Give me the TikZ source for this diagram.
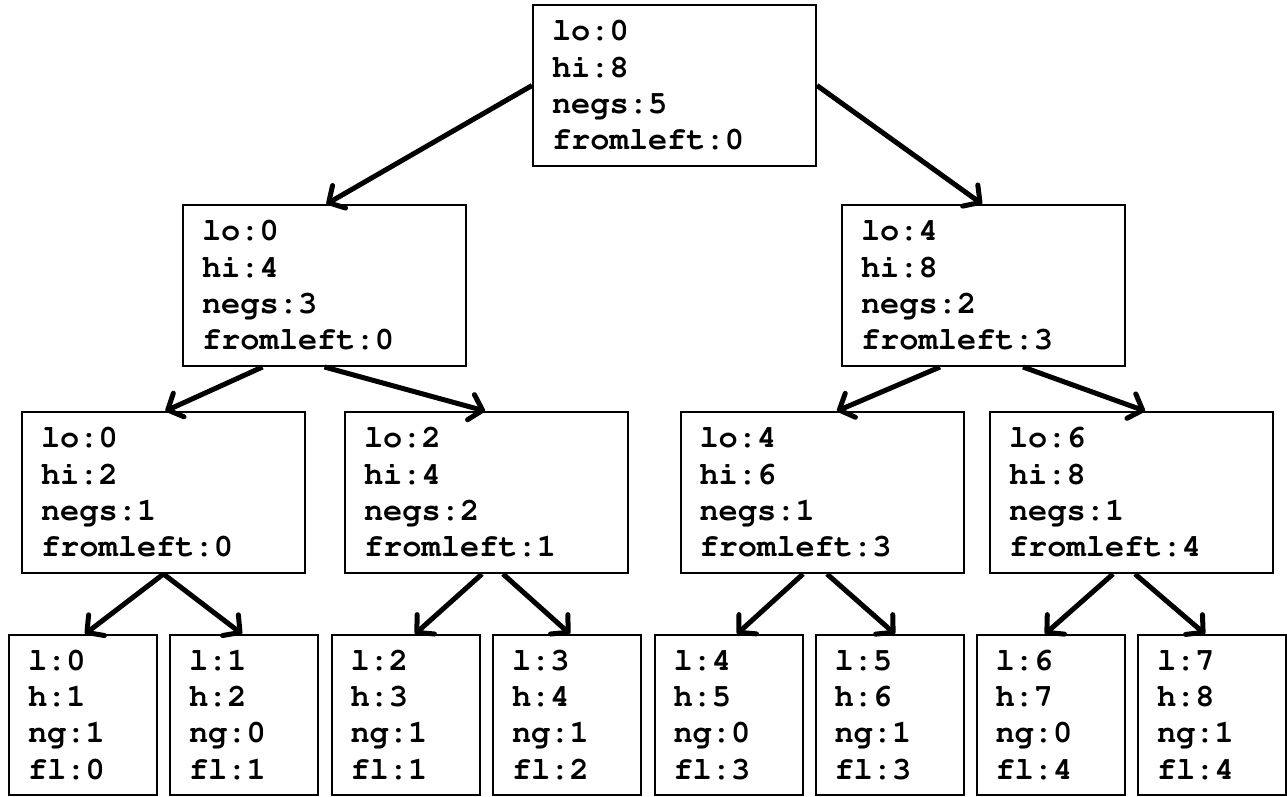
\documentclass[tikz,border=0pt]{standalone}
\usepackage[T1]{fontenc}
\usetikzlibrary{arrows.meta}
\begin{document}
\begin{tikzpicture}[x=1pt,y=-1pt,
  box/.style={draw,line width=2pt,rectangle,minimum width=283pt,minimum height=161pt,
    text width=245pt,inner xsep=19pt,inner ysep=0pt,align=left,
    font=\fontfamily{pcr}\bfseries\fontsize{32}{36.3}\selectfont},
  leaf/.style={box,minimum width=148pt,minimum height=160pt,text width=110pt},
  conn/.style={line width=5pt,-{Straight Barb[length=12pt,width=26pt,round]}}]
\useasboundingbox (0,0) rectangle (1287,797);
\node[box] (root) at (674.5,85.5) {lo:0\\hi:8\\negs:5\\fromleft:0};
\node[box] (a) at (324.5,285.5) {lo:0\\hi:4\\negs:3\\fromleft:0};
\node[box] (b) at (983.5,285.5) {lo:4\\hi:8\\negs:2\\fromleft:3};
\node[box] (aa) at (163.5,492.5) {lo:0\\hi:2\\negs:1\\fromleft:0};
\node[box] (ab) at (486.5,492.5) {lo:2\\hi:4\\negs:2\\fromleft:1};
\node[box] (ba) at (822,492.5) {lo:4\\hi:6\\negs:1\\fromleft:3};
\node[box] (bb) at (1131.5,492.5) {lo:6\\hi:8\\negs:1\\fromleft:4};
\node[leaf] (l0) at (83,715) {l:0\\h:1\\ng:1\\fl:0};
\node[leaf] (l1) at (244,715) {l:1\\h:2\\ng:0\\fl:1};
\node[leaf] (l2) at (405.5,715) {l:2\\h:3\\ng:1\\fl:1};
\node[leaf] (l3) at (567,715) {l:3\\h:4\\ng:1\\fl:2};
\node[leaf] (l4) at (728.5,715) {l:4\\h:5\\ng:0\\fl:3};
\node[leaf] (l5) at (889.5,715) {l:5\\h:6\\ng:1\\fl:3};
\node[leaf] (l6) at (1050.5,715) {l:6\\h:7\\ng:0\\fl:4};
\node[leaf] (l7) at (1212,715) {l:7\\h:8\\ng:1\\fl:4};
\draw[conn] (root.west) -- ([xshift=2pt]a.north);
\draw[conn] (root.east) -- ([xshift=-1.5pt]b.north);
\draw[conn] ([xshift=-62pt]a.south) -- ([xshift=2pt]aa.north);
\draw[conn] (a.south) -- ([xshift=-1.5pt]ab.north);
\draw[conn] ([xshift=-43.5pt]b.south) -- ([xshift=15pt]ba.north);
\draw[conn] ([xshift=39.5pt]b.south) -- ([xshift=13.5pt]bb.north);
\draw[conn] (aa.south) -- ([xshift=2pt]l0.north);
\draw[conn] (aa.south) -- ([xshift=-2pt]l1.north);
\draw[conn] ([xshift=-4.5pt]ab.south) -- ([xshift=9.5pt]l2.north);
\draw[conn] ([xshift=16.5pt]ab.south) -- ([xshift=3pt]l3.north);
\draw[conn] ([xshift=-19pt]ba.south) -- ([xshift=8.5pt]l4.north);
\draw[conn] ([xshift=5pt]ba.south) -- ([xshift=5.5pt]l5.north);
\draw[conn] ([xshift=-18.5pt]bb.south) -- ([xshift=-5.5pt]l6.north);
\draw[conn] ([xshift=3.5pt]bb.south) -- ([xshift=-7pt]l7.north);
\end{tikzpicture}
\end{document}
